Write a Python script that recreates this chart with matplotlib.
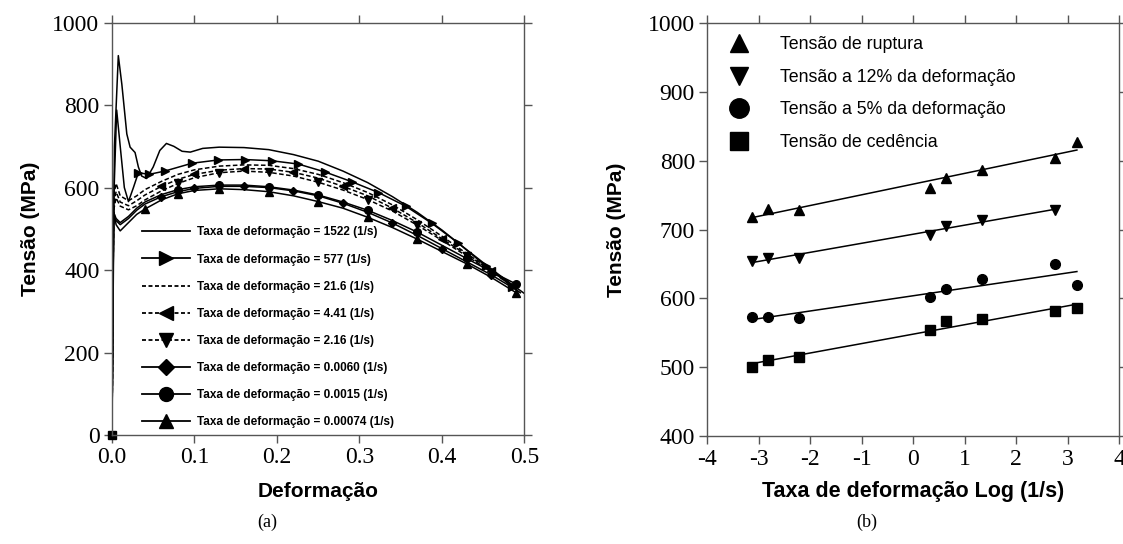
import numpy as np
import matplotlib
matplotlib.use("Agg")
import matplotlib.pyplot as plt
from matplotlib.lines import Line2D

plt.rcParams["axes.unicode_minus"] = False

# ---------------------------------------------------------
# (a) stress-strain curves for each strain rate
# ---------------------------------------------------------
strain_1522 = [0, 0.003, 0.0077, 0.012, 0.018, 0.022, 0.028, 0.032, 0.036, 0.042, 0.05, 0.058,
               0.066, 0.075, 0.085, 0.095, 0.11, 0.13, 0.16, 0.19, 0.22, 0.25, 0.28, 0.31, 0.34,
               0.37, 0.40, 0.42, 0.45, 0.48, 0.50]
stress_1522 = [0, 700, 920, 850, 730, 698, 685, 650, 628, 622, 650, 690,
               707, 700, 688, 686, 695, 698, 697, 692, 680, 664, 640, 612, 578,
               540, 497, 465, 418, 372, 343]

strain_577 = [0, 0.002, 0.0057, 0.01, 0.015, 0.02, 0.026, 0.032, 0.045, 0.064, 0.097, 0.129,
              0.161, 0.194, 0.226, 0.258, 0.291, 0.323, 0.356, 0.388, 0.42, 0.453, 0.485, 0.495]
stress_577 = [0, 560, 788, 700, 600, 566, 600, 636, 632, 640, 659, 667,
              668, 665, 657, 638, 614, 588, 555, 513, 465, 410, 360, 345]

# the slower tests share one strain grid
strain_grid = [0, 0.002, 0.005, 0.01, 0.02, 0.03, 0.04, 0.06, 0.08, 0.1, 0.13, 0.16,
               0.19, 0.22, 0.25, 0.28, 0.31, 0.34, 0.37, 0.4, 0.43, 0.46, 0.49]
stress_21_6 = [0, 580, 610, 580, 568, 580, 595, 615, 632, 643, 652, 655,
               654, 646, 632, 612, 588, 558, 522, 482, 440, 400, 358]
stress_4_41 = [0, 560, 590, 565, 556, 568, 582, 603, 620, 632, 642, 646,
               645, 637, 623, 603, 580, 550, 515, 476, 437, 398, 357]
stress_2_16 = [0, 545, 575, 555, 546, 556, 570, 592, 610, 624, 636, 640,
               637, 628, 613, 594, 571, 543, 509, 472, 434, 396, 355]
stress_0_0060 = [0, 530, 520, 510, 525, 545, 560, 578, 590, 598, 603, 603,
                 600, 592, 580, 562, 540, 514, 484, 452, 420, 388, 352]
stress_0_0015 = [0, 540, 525, 515, 530, 550, 565, 583, 595, 602, 606, 606,
                 602, 594, 582, 565, 545, 520, 492, 460, 428, 396, 366]
stress_0_00074 = [0, 545, 510, 495, 515, 535, 548, 570, 585, 593, 597, 595,
                  590, 580, 566, 550, 528, 503, 475, 445, 415, 382, 345]

origin_point = ([0.0], [0.0])

curve_labels = [
    "Taxa de deformação = 1522 (1/s)",
    "Taxa de deformação = 577 (1/s)",
    "Taxa de deformação = 21.6 (1/s)",
    "Taxa de deformação = 4.41 (1/s)",
    "Taxa de deformação = 2.16 (1/s)",
    "Taxa de deformação = 0.0060 (1/s)",
    "Taxa de deformação = 0.0015 (1/s)",
    "Taxa de deformação = 0.00074 (1/s)",
]

# ---------------------------------------------------------
# (b) characteristic stresses versus strain rate
# ---------------------------------------------------------
strain_rates = [0.00074, 0.0015, 0.0060, 2.16, 4.41, 21.6, 577, 1522]
tensao_ruptura = [718, 730, 729, 760, 775, 787, 804, 827]
tensao_12 = [654, 659, 659, 692, 705, 714, 729]
tensao_5 = [572.5, 573.5, 571.5, 602, 614, 628, 650, 620]
tensao_cedencia = [500, 511, 515.5, 554, 567, 570, 582, 586]

series_labels = ["Tensão de ruptura", "Tensão a 12% da deformação",
                 "Tensão a 5% da deformação", "Tensão de cedência"]

TICK_FONT = "Liberation Serif"
LABEL_FONT = "Liberation Sans"
SPINE_COLOR = "#555555"


def style_axes(ax):
    for sp in ax.spines.values():
        sp.set_color(SPINE_COLOR)
        sp.set_linewidth(1.0)
    ax.tick_params(direction="out", top=True, right=True, length=6, width=1.0,
                   color=SPINE_COLOR, labelsize=17, pad=3)
    for lbl in ax.get_xticklabels() + ax.get_yticklabels():
        lbl.set_family(TICK_FONT)


fig = plt.figure(figsize=(11.23, 5.44), dpi=100)
ax_a = fig.add_axes([0.0997, 0.2004, 0.3673, 0.758])
ax_b = fig.add_axes([0.630, 0.1985, 0.3664, 0.759])

# ----- panel (a)
lw = 1.1
ms = 5.5
ax_a.plot(strain_1522, stress_1522, color="black", lw=lw)
ax_a.plot(strain_577, stress_577, color="black", lw=lw, marker=">", ms=ms,
          markevery=list(range(7, len(strain_577) - 1)))
dash = (0, (3.0, 1.6))
ax_a.plot(strain_grid, stress_21_6, color="black", lw=lw, linestyle=dash)
ax_a.plot(strain_grid, stress_4_41, color="black", lw=lw, linestyle=dash, marker="<", ms=ms,
          markevery=list(range(7, len(strain_grid) - 1, 2)))
ax_a.plot(strain_grid, stress_2_16, color="black", lw=lw, linestyle=dash, marker="v", ms=ms,
          markevery=list(range(8, len(strain_grid) - 1, 2)))
ax_a.plot(strain_grid, stress_0_0060, color="black", lw=lw, marker="D", ms=ms - 1.5,
          markevery=list(range(7, len(strain_grid), 2)))
ax_a.plot(strain_grid, stress_0_0015, color="black", lw=lw, marker="o", ms=ms,
          markevery=list(range(8, len(strain_grid), 2)))
ax_a.plot(strain_grid, stress_0_00074, color="black", lw=lw, marker="^", ms=ms,
          markevery=list(range(6, len(strain_grid), 2)))
ax_a.plot(*origin_point, color="black", marker="s", ms=6, linestyle="none", clip_on=False)

ax_a.set_xlim(0, 0.5)
ax_a.set_ylim(0, 1000)
ax_a.set_xticks(np.arange(0, 0.51, 0.1))
ax_a.set_xticklabels([f"{v:.1f}" for v in np.arange(0, 0.51, 0.1)])
ax_a.set_yticks(np.arange(0, 1001, 200))
style_axes(ax_a)
ax_a.set_xlabel("Deformação", fontsize=15, fontweight="bold", family=LABEL_FONT)
ax_a.set_ylabel("Tensão (MPa)", fontsize=15, fontweight="bold", family=LABEL_FONT)
ax_a.xaxis.set_label_coords(0.5, -0.115)
ax_a.yaxis.set_label_coords(-0.175, 0.5)

# legend with large markers
legend_styles = [
    dict(linestyle="-", marker=None),
    dict(linestyle="-", marker=">"),
    dict(linestyle=(0, (2.2, 1.4)), marker=None),
    dict(linestyle=(0, (2.2, 1.4)), marker="<"),
    dict(linestyle=(0, (2.2, 1.4)), marker="v"),
    dict(linestyle="-", marker="D"),
    dict(linestyle="-", marker="o"),
    dict(linestyle="-", marker="^"),
]
handles_a = [Line2D([], [], color="black", lw=1.3, ms=10 if s["marker"] != "D" else 8, **s)
             for s in legend_styles]
ax_a.legend(handles_a, curve_labels, loc="upper left", bbox_to_anchor=(0.058, 0.52),
            frameon=False, borderpad=0, handlelength=4.1, handletextpad=0.6,
            labelspacing=1.28, prop=dict(family=LABEL_FONT, weight="bold", size=8.5))

# ----- panel (b)
log_rate = np.log10(strain_rates)
series = [(tensao_ruptura, "^"), (tensao_12, "v"), (tensao_5, "o"), (tensao_cedencia, "s")]
for (values, mk), label in zip(series, series_labels):
    x = log_rate[:len(values)]
    ax_b.plot(x, values, linestyle="none", marker=mk, color="black", ms=7, label=label)
    slope, intercept = np.polyfit(x, values, 1)
    xf = np.array([x.min(), x.max()])
    ax_b.plot(xf, slope * xf + intercept, color="black", lw=1.1)

ax_b.set_xlim(-4, 4)
ax_b.set_ylim(400, 1000)
ax_b.set_xticks(range(-4, 5))
ax_b.set_yticks(range(400, 1001, 100))
style_axes(ax_b)
ax_b.set_xlabel("Taxa de deformação Log (1/s)", fontsize=15.5, fontweight="bold", family=LABEL_FONT)
ax_b.set_ylabel("Tensão (MPa)", fontsize=15, fontweight="bold", family=LABEL_FONT)
ax_b.xaxis.set_label_coords(0.5, -0.11)
ax_b.yaxis.set_label_coords(-0.198, 0.5)

handles_b = [Line2D([], [], linestyle="none", marker=mk, color="black", ms=13 if mk != "o" else 14)
             for _, mk in series]
ax_b.legend(handles_b, series_labels, loc="upper left", bbox_to_anchor=(0.03, 0.99),
            frameon=False, borderpad=0, handlelength=1.2, handletextpad=1.7,
            labelspacing=0.88, prop=dict(family=LABEL_FONT, size=12.8))

fig.text(267 / 1123, 1 - 522 / 544, "(a)", ha="center", va="center", fontsize=13, family=TICK_FONT)
fig.text(867 / 1123, 1 - 522 / 544, "(b)", ha="center", va="center", fontsize=13, family=TICK_FONT)

fig.savefig("out.png", dpi=100)
